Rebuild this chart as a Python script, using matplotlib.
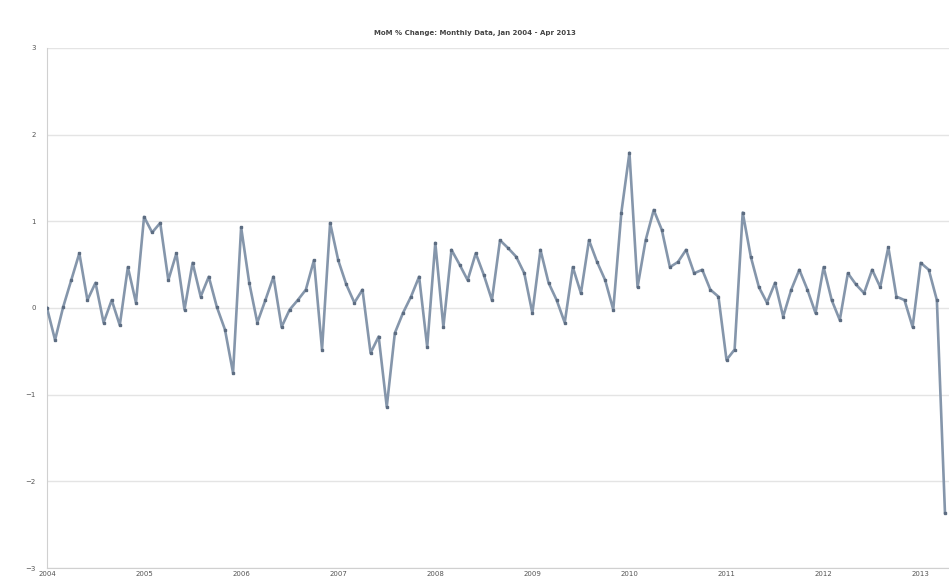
import numpy as np
import matplotlib
matplotlib.use("Agg")
import matplotlib.pyplot as plt

# 월별 변화율 (값은 그림에서 읽은 추정치)
values = [0.00, -0.37, 0.01, 0.32, 0.63, 0.09, 0.29, -0.17, 0.09, -0.20,
          0.47, 0.06, 1.05, 0.87, 0.98, 0.32, 0.63, -0.02, 0.52, 0.13,
          0.36, 0.01, -0.25, -0.75, 0.93, 0.29, -0.17, 0.09, 0.36, -0.22,
          -0.02, 0.09, 0.21, 0.55, -0.48, 0.98, 0.55, 0.27, 0.06, 0.21,
          -0.52, -0.33, -1.14, -0.29, -0.06, 0.13, 0.36, -0.45, 0.75, -0.22,
          0.67, 0.50, 0.32, 0.63, 0.38, 0.09, 0.78, 0.69, 0.59, 0.40,
          -0.06, 0.67, 0.29, 0.09, -0.17, 0.47, 0.17, 0.78, 0.53, 0.32,
          -0.02, 1.10, 1.79, 0.24, 0.78, 1.13, 0.90, 0.47, 0.53, 0.67,
          0.40, 0.44, 0.21, 0.13, -0.60, -0.48, 1.10, 0.59, 0.24, 0.06,
          0.29, -0.10, 0.21, 0.44, 0.21, -0.06, 0.47, 0.09, -0.14, 0.40,
          0.27, 0.17, 0.44, 0.24, 0.70, 0.13, 0.09, -0.22, 0.52, 0.44,
          0.09, -2.36]
year_labels = ['2004', '2005', '2006', '2007', '2008', '2009', '2010', '2011', '2012', '2013']
y_ticks = [3, 2, 1, 0, -1, -2, -3]
title = 'MoM % Change: Monthly Data, Jan 2004 - Apr 2013'

x = np.arange(len(values))

fig = plt.figure(figsize=(9.49, 5.78), dpi=100)
ax = fig.add_axes([0.0495, 0.0173, 0.9505, 0.9])

ax.plot(x, values, color='#8596ab', lw=1.9, marker='s', ms=1.8,
        mfc='#5d6d82', mec='#5d6d82', zorder=3)

ax.set_xlim(0, len(values) - 0.5)
ax.set_ylim(-3, 3)
ax.set_yticks(y_ticks)
ax.set_xticks(np.arange(0, len(values), 12))
ax.set_xticklabels(year_labels)
ax.tick_params(labelsize=5, colors='#555555', length=0)
ax.tick_params(axis='y', pad=8)
ax.tick_params(axis='x', pad=2)
ax.yaxis.grid(True, color='#e4e4e4', lw=1)
ax.set_axisbelow(True)
for s in ['top', 'right']:
    ax.spines[s].set_visible(False)
ax.spines['left'].set_color('#d0d0d0')
ax.spines['bottom'].set_color('#d0d0d0')

fig.text(0.5, 0.943, title, ha='center', va='center', fontsize=5,
         color='#444444', fontweight='bold')

fig.savefig('out.png', dpi=100)
